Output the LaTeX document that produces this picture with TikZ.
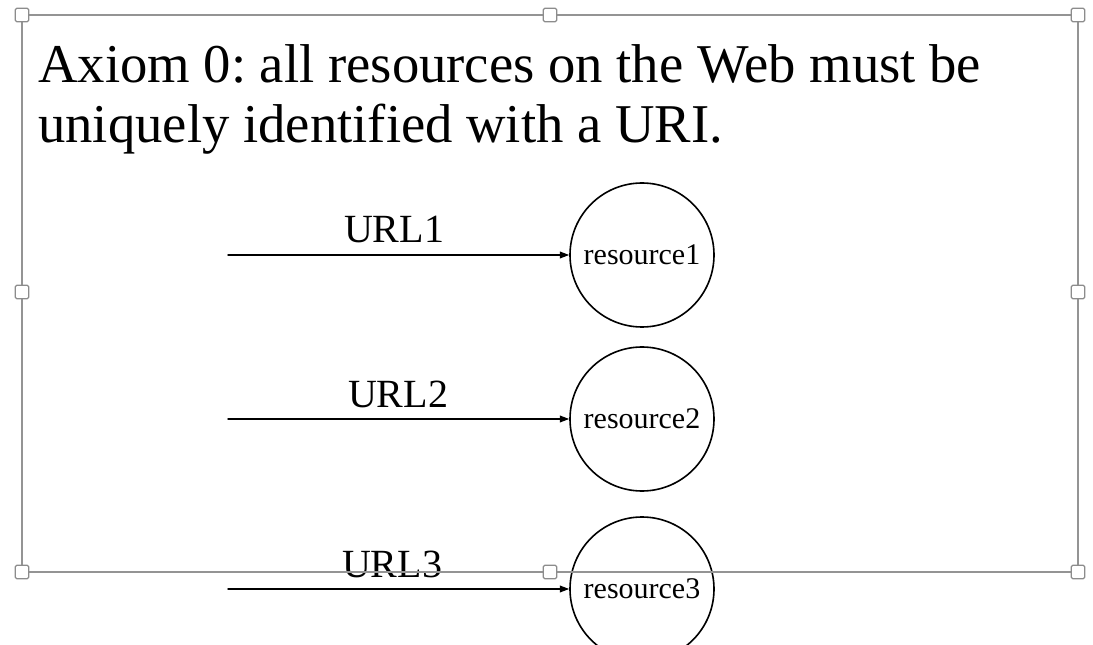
\documentclass[tikz,border=0pt]{standalone}
\usepackage{fontspec}
\setmainfont{Liberation Serif}
\usetikzlibrary{arrows.meta}
\frenchspacing

\begin{document}
\begin{tikzpicture}[x=0.75pt, y=-0.75pt, line cap=round, line join=round, >={Triangle[length=7pt, width=5pt]},
  frameline/.style={draw=black!42, line width=1.1pt},
  handlebox/.style={draw=black!45, fill=white, line width=0.9pt, minimum size=10pt, inner sep=0pt, rounded corners=1pt},
  rescircle/.style={draw, circle, line width=1.2pt, minimum size=108pt, inner sep=0pt, font=\fontsize{22.5}{22.5}\selectfont},
  urllabel/.style={font=\fontsize{30}{30}\selectfont, inner sep=0pt, anchor=base}]
\useasboundingbox[fill=white] (0,0) rectangle (1093,645);

% title
\node[anchor=base west, inner sep=0pt, font=\fontsize{41}{41}\selectfont] (title1) at (38,83)
  {Axiom 0: all resources on the Web must be};
\node[anchor=base west, inner sep=0pt, font=\fontsize{41}{41}\selectfont] (title2) at (38,143)
  {uniquely identified with a URI.};

% resources
\node[rescircle] (res1) at (642,255) {resource1};
\node[rescircle] (res2) at (642,419) {resource2};
\node[rescircle] (res3) at (642,589) {resource3};

\coordinate (start1) at (228,255);
\coordinate (start2) at (228,419);
\coordinate (start3) at (228,589);

\draw [->, line width=1.1pt] (start1) -- (res1);
\draw [->, line width=1.1pt] (start2) -- (res2);
\draw [->, line width=1.1pt] (start3) -- (res3);

\node[urllabel] (url1) at (394,243) {URL1};
\node[urllabel] (url2) at (398,407) {URL2};
\node[urllabel] (url3) at (392,577) {URL3};

% selection frame with handles
\draw[frameline] (22,15) rectangle (1078,572);
\node[handlebox] (h1) at (22,15) {};
\node[handlebox] (h2) at (550,15) {};
\node[handlebox] (h3) at (1078,15) {};
\node[handlebox] (h4) at (22,292) {};
\node[handlebox] (h5) at (1078,292) {};
\node[handlebox] (h6) at (22,572) {};
\node[handlebox] (h7) at (550,572) {};
\node[handlebox] (h8) at (1078,572) {};
\end{tikzpicture}
\end{document}
